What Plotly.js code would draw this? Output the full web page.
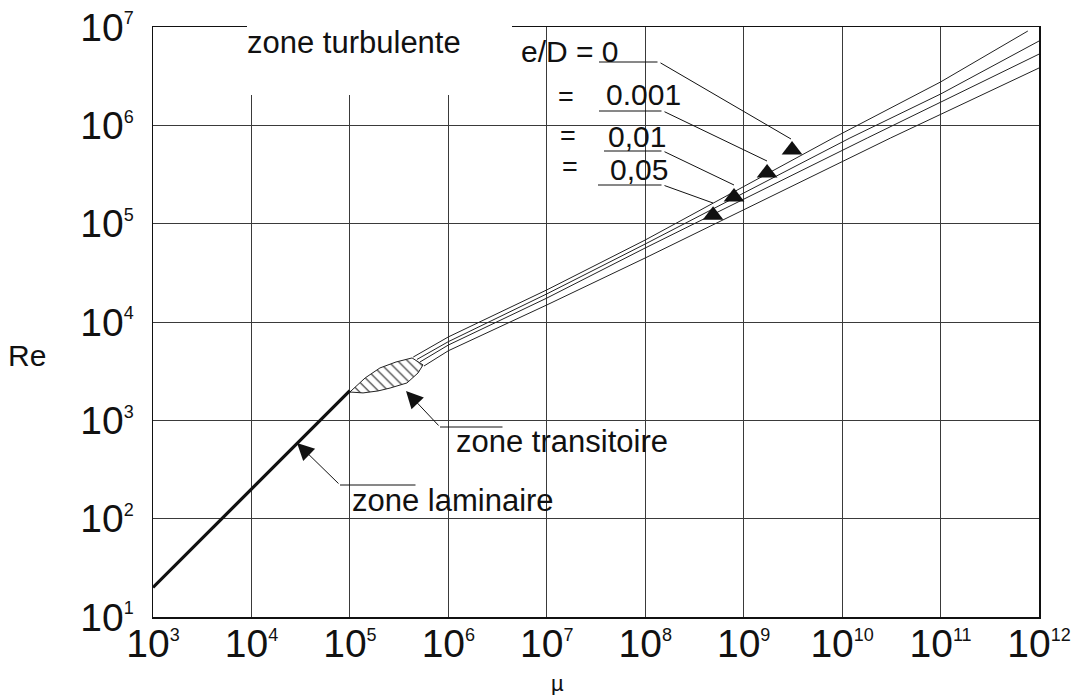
<!DOCTYPE html>
<html><head><meta charset="utf-8">
<script src="https://cdn.plot.ly/plotly-3.0.1.min.js"></script>
<style>html,body{margin:0;padding:0;background:#fff}#chart{width:1074px;height:695px}</style>
</head><body><div id="chart"></div>
<script>
// ---- data ----
const xTickExponents = [3, 4, 5, 6, 7, 8, 9, 10, 11, 12];
const yTickExponents = [1, 2, 3, 4, 5, 6, 7];

const laminarMu = [1e3, 1e5];
const laminarRe = [20, 2000];

// transition zone (closed outline: upper edge then lower edge back)
const lensMu = [1.0e5, 1.43e5, 2.02e5, 2.94e5, 4.28e5, 5.53e5, 4.92e5, 3.80e5, 2.56e5, 1.93e5, 1.36e5, 1.0e5];
const lensRe = [1940, 2700, 3410, 3920, 4310, 3660, 3030, 2400, 2130, 1990, 1900, 1940];

// turbulent curves, e/D = 0, 0.001, 0.01, 0.05
const smoothMu = [4.4e5, 1e6, 1e7, 1e8, 8.1e9, 1e11, 7.7e11];
const smoothRe = [4400, 7050, 21200, 68200, 7.43e5, 2.76e6, 9.1e6];
const rough001Mu = [4.8e5, 1e6, 1e7, 1e8, 1.2e10, 1e11, 1e12];
const rough001Re = [4160, 6310, 19300, 62100, 7.43e5, 2.08e6, 7.2e6];
const rough01Mu = [5.15e5, 1e6, 1e7, 1e8, 1.8e10, 1e12];
const rough01Re = [3920, 5830, 17500, 56600, 7.43e5, 5.3e6];
const rough05Mu = [5.66e5, 1e6, 1e7, 1e8, 3.1e10, 1e12];
const rough05Re = [3570, 5100, 14900, 44800, 7.43e5, 3.83e6];

// arrow heads marking each e/D curve
const markerMu = [3.1e9, 1.73e9, 7.98e8, 4.89e8];
const markerRe = [5.61e5, 3.27e5, 1.87e5, 1.22e5];

const roughnessLabels = ['e/D = 0', '0.001', '0,01', '0,05'];

// ---- helpers: pixel -> paper fraction (plot area 153..1039 x 27..617) ----
const PL = 153, PR = 1039, PT = 27, PB = 617;
const PX = p => (p - PL) / (PR - PL);
const PY = p => (PB - p) / (PB - PT);

const supText = e => '10<sup><span style="font-size:18px">' + e + '</span></sup>';

const lineCol = '#222';
const traces = [
  {x: lensMu, y: lensRe, mode: 'lines', fill: 'toself',
   fillpattern: {shape: '\\', size: 7, solidity: 0.16, fgcolor: '#222', bgcolor: 'white'},
   line: {color: lineCol, width: 1}, hoverinfo: 'skip'},
  {x: laminarMu, y: laminarRe, mode: 'lines', line: {color: '#111', width: 3.2}},
  {x: smoothMu, y: smoothRe, mode: 'lines', line: {color: lineCol, width: 1}},
  {x: rough001Mu, y: rough001Re, mode: 'lines', line: {color: lineCol, width: 1}},
  {x: rough01Mu, y: rough01Re, mode: 'lines', line: {color: lineCol, width: 1}},
  {x: rough05Mu, y: rough05Re, mode: 'lines', line: {color: lineCol, width: 1}},
  {x: markerMu, y: markerRe, mode: 'markers', marker: {symbol: 'triangle-up', size: 18, color: '#111'}}
];

const F = '"Liberation Sans", Arial, sans-serif';
function txt(text, xl, yc, size, anchor) {
  return {xref: 'paper', yref: 'paper', x: PX(xl), y: PY(yc), text: text, showarrow: false,
          xanchor: anchor || 'left', yanchor: 'middle', font: {family: F, size: size, color: '#111'}};
}
function seg(x1, y1, x2, y2, head) {
  // line from (x2,y2) to tip (x1,y1), pixel positions
  return {xref: 'paper', yref: 'paper', x: PX(x1), y: PY(y1), ax: x2 - x1, ay: y2 - y1,
          text: '', showarrow: true, arrowhead: head || 0, arrowsize: head ? 3.4 : 1,
          arrowwidth: 1, arrowcolor: '#111', standoff: 0};
}

const annotations = [
  txt('zone turbulente', 245, 42, 31),
  txt(roughnessLabels[0], 519, 51, 30),
  txt('=', 566, 97, 27, 'center'),
  txt(roughnessLabels[1], 604, 95, 30),
  txt('=', 568, 136, 27, 'center'),
  txt(roughnessLabels[2], 606, 136, 30),
  txt('=', 570, 167, 27, 'center'),
  txt(roughnessLabels[3], 608, 170, 30),
  txt('zone transitoire', 454, 441, 31),
  txt('zone laminaire', 350, 500, 31),
  txt('Re', 6, 355, 30),
  txt('µ', 557, 683, 22, 'center'),
  // leaders for e/D labels
  seg(599, 62, 659, 62), seg(791, 139, 659, 62),
  seg(599, 111, 663, 111), seg(767, 161, 663, 111),
  seg(604, 151, 663, 151), seg(734, 185, 663, 151),
  seg(598, 185, 663, 185), seg(713, 203, 663, 185),
  // zone arrows
  seg(440, 427, 504, 427), seg(406, 391, 440, 427, 2),
  seg(340, 485, 417, 485), seg(297, 443, 340, 485, 2)
];

const layout = {
  width: 1074, height: 695,
  margin: {l: PL, r: 1074 - PR, t: PT, b: 695 - PB, pad: 0},
  paper_bgcolor: 'white', plot_bgcolor: 'white',
  showlegend: false,
  font: {family: F, color: '#111'},
  xaxis: {type: 'log', range: [3, 12], tickmode: 'array',
          tickvals: xTickExponents.map(e => Math.pow(10, e)),
          ticktext: xTickExponents.map(supText),
          showgrid: true, gridcolor: '#3a3a3a', gridwidth: 1,
          showline: true, mirror: true, linecolor: '#111', linewidth: 1.5,
          ticks: '', tickfont: {size: 39, family: F, color: '#111'},
          ticklabelstandoff: -8, zeroline: false, fixedrange: true},
  yaxis: {type: 'log', range: [1, 7], tickmode: 'array',
          tickvals: yTickExponents.map(e => Math.pow(10, e)),
          ticktext: yTickExponents.map(supText),
          showgrid: true, gridcolor: '#3a3a3a', gridwidth: 1,
          showline: true, mirror: true, linecolor: '#111', linewidth: 1.5,
          ticks: '', tickfont: {size: 39, family: F, color: '#111'},
          ticklabelstandoff: 10, zeroline: false, fixedrange: true},
  shapes: [
    {type: 'rect', xref: 'paper', yref: 'paper', x0: PX(247), x1: PX(512), y0: PY(95), y1: PY(18),
     fillcolor: 'white', line: {width: 0}, layer: 'above'}
  ],
  annotations: annotations
};

Plotly.newPlot('chart', traces, layout, {displayModeBar: false, staticPlot: true});
</script>
</body></html>
